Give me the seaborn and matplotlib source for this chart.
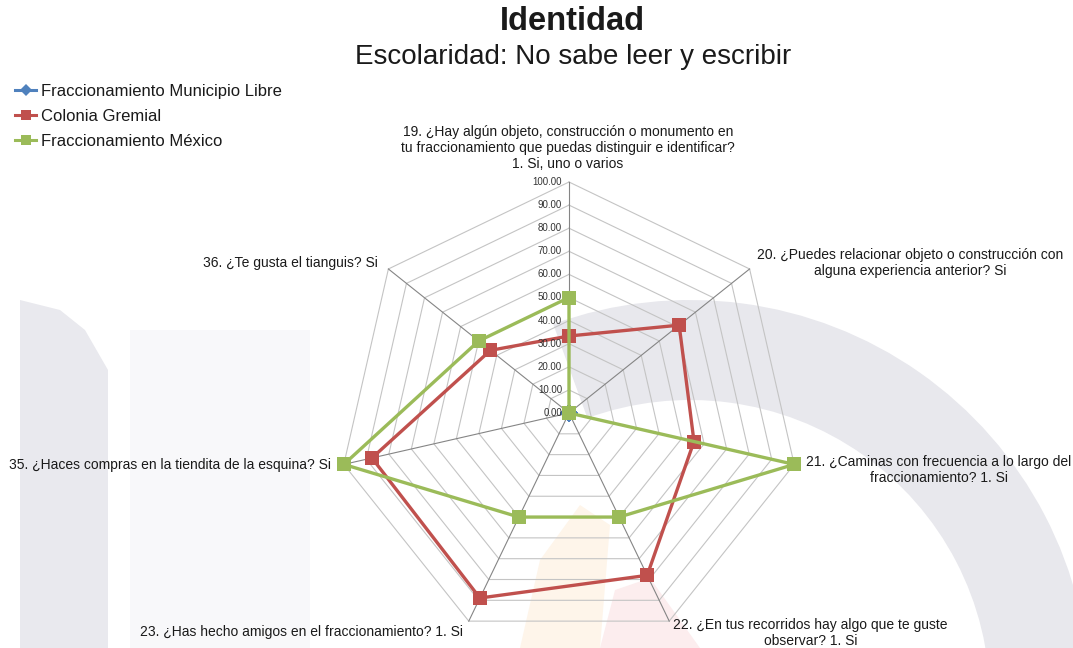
import numpy as np
import pandas as pd
import matplotlib
matplotlib.use('Agg')
import matplotlib.pyplot as plt
import matplotlib.patches as mpatches
import seaborn as sns

categories = [
    '19. ¿Hay algún objeto, construcción o monumento en\ntu fraccionamiento que puedas distinguir e identificar?\n1. Si, uno o varios',
    '20. ¿Puedes relacionar objeto o construcción con\nalguna experiencia anterior? Si',
    '21. ¿Caminas con frecuencia a lo largo del\nfraccionamiento? 1. Si',
    '22. ¿En tus recorridos hay algo que te guste\nobservar? 1. Si',
    '23. ¿Has hecho amigos en el fraccionamiento? 1. Si',
    '35. ¿Haces compras en la tiendita de la esquina? Si',
    '36. ¿Te gusta el tianguis? Si',
]
series_names = ['Fraccionamiento Municipio Libre', 'Colonia Gremial', 'Fraccionamiento México']
municipio_libre = [0, 0, 0, 0, 0, 0, 0]
colonia_gremial = [33.33, 61.0, 55.5, 78.0, 88.9, 87.5, 43.5]
fracc_mexico = [50.0, 0, 100.0, 50.0, 50.0, 100.0, 50.0]
ticks = [0, 10, 20, 30, 40, 50, 60, 70, 80, 90, 100]

colors = ['#4F81BD', '#C0504D', '#9BBB59']
markers = ['D', 's', 's']

n = len(categories)
theta = np.linspace(0, 2 * np.pi, n, endpoint=False)
theta_closed = np.append(theta, 2 * np.pi)

rows = []
for name, vals in zip(series_names, [municipio_libre, colonia_gremial, fracc_mexico]):
    vals_closed = list(vals) + [vals[0]]
    for t, v in zip(theta_closed, vals_closed):
        rows.append({'theta': t, 'valor': v, 'serie': name})
df = pd.DataFrame(rows)

W, H = 1073, 648
fig = plt.figure(figsize=(W / 100, H / 100), dpi=100)

def px(x, y):
    return x / W, 1 - y / H

# marca de agua de fondo (tenue)
bg = fig.add_axes([0, 0, 1, 1], zorder=0)
bg.set_xlim(0, W)
bg.set_ylim(H, 0)
bg.axis('off')
bg.add_patch(mpatches.Polygon([[20, 300], [60, 310], [85, 330], [108, 370], [108, 648], [20, 648]],
                              closed=True, color='#E9E9EE', lw=0))
bg.add_patch(mpatches.Rectangle((130, 330), 180, 318, color='#F8F8FA', lw=0))
bg.add_patch(mpatches.Wedge((690, 700), 400, 250, 360, width=100, color='#E8E8ED', lw=0))
bg.add_patch(mpatches.Polygon([[520, 648], [540, 560], [580, 505], [610, 525], [600, 648]],
                              closed=True, color='#FEF5EA', lw=0))
bg.add_patch(mpatches.Polygon([[600, 648], [615, 590], [650, 578], [700, 648]],
                              closed=True, color='#FCEDEE', lw=0))

cx, cy, R = 569, 413, 231
ax = fig.add_axes([(cx - R) / W, (H - cy - R) / H, 2 * R / W, 2 * R / H],
                  projection='polar', zorder=1)
ax.patch.set_alpha(0)
ax.set_theta_offset(np.pi / 2)
ax.set_theta_direction(-1)
ax.set_ylim(0, 100)
ax.grid(False)
ax.spines['polar'].set_visible(False)

# rejilla heptagonal
for r in ticks[1:]:
    ax.plot(theta_closed, [r] * len(theta_closed), color='#C4C4C4', lw=0.8, zorder=1, clip_on=False)
for t in theta:
    ax.plot([t, t], [0, 100], color='#858585', lw=0.8, zorder=1.5, clip_on=False)

sns.lineplot(data=df, x='theta', y='valor', hue='serie', style='serie',
             hue_order=series_names, style_order=series_names,
             palette=colors, markers=dict(zip(series_names, markers)), dashes=False,
             sort=False, estimator=None, ax=ax, linewidth=2.4, markersize=9.5,
             markeredgewidth=0, clip_on=False, zorder=3)

ax.set_xticks([])
ax.set_yticks([])
ax.set_xlabel('')
ax.set_ylabel('')

for v in ticks:
    ax.annotate(f'{v:.2f}', xy=(0, v), xytext=(-5, 0), textcoords='offset points',
                ha='right', va='center', fontsize=7, color='#333333',
                family='Liberation Sans', annotation_clip=False)

sns.move_legend(ax, 'upper left', bbox_to_anchor=px(8, 77), bbox_transform=fig.transFigure,
                title=None, frameon=False, fontsize=12, handlelength=1.3,
                handletextpad=0.3, labelspacing=0.62, borderaxespad=0)
leg = ax.get_legend()
for txt in leg.get_texts():
    txt.set_family('Liberation Sans')
    txt.set_color('#1a1a1a')
for h, ms in zip(leg.legend_handles, [6, 7.5, 7.5]):
    h.set_markersize(ms)
    h.set_linewidth(2.2)

lab = dict(fontsize=10, family='Liberation Sans', color='#1a1a1a', multialignment='center')
fig.text(*px(568, 148), categories[0], ha='center', va='center', linespacing=1.2, **lab)
fig.text(*px(757, 263), categories[1], ha='left', va='center', **lab)
fig.text(*px(806, 470), categories[2], ha='left', va='center', **lab)
fig.text(*px(673, 633), categories[3], ha='left', va='center', **lab)
fig.text(*px(463, 632), categories[4], ha='right', va='center', **lab)
fig.text(*px(331, 465), categories[5], ha='right', va='center', **lab)
fig.text(*px(378, 263), categories[6], ha='right', va='center', **lab)

fig.text(*px(572, 22), 'Identidad', ha='center', va='center', fontsize=23.5,
         fontweight='bold', family='Liberation Sans', color='#1a1a1a')
fig.text(*px(573, 57), 'Escolaridad: No sabe leer y escribir', ha='center', va='center',
         fontsize=20, family='Liberation Sans', color='#1a1a1a')

fig.savefig('out.png', dpi=100)
